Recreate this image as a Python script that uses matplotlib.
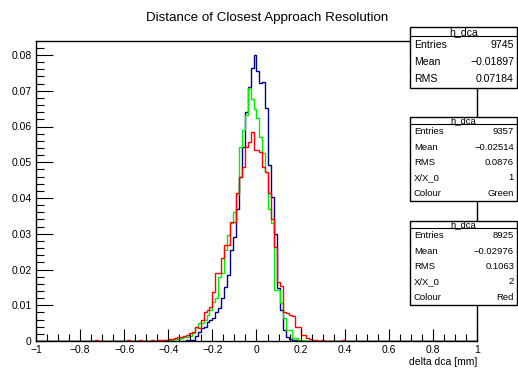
import numpy as np
import matplotlib
matplotlib.use("Agg")
import matplotlib.pyplot as plt
from matplotlib.patches import Rectangle
from matplotlib.lines import Line2D

plt.rcParams['font.family'] = ['Liberation Sans', 'DejaVu Sans']

# ---------------- data ----------------
x_min, x_max, n_bins = -1.0, 1.0, 150
first_bin = 44  # listed values start at bin 44 (x = -0.4133) and run to bin 95

blue_vals = [
    0, 0, 0, 0, 0, 0, 0, 0.0002, 0.0002, 0.0003,           # bins 44-53
    0.0014, 0.0026, 0.0035, 0.004, 0.0054, 0.006, 0.0063, 0.0082, 0.0091, 0.0119,   # 54-63
    0.015, 0.0185, 0.0255, 0.029, 0.037, 0.046, 0.0544, 0.0641, 0.0711, 0.0763,     # 64-73
    0.0799, 0.0756, 0.0721, 0.0724, 0.0651, 0.0492, 0.0404, 0.030, 0.0147, 0.0087,  # 74-83
    0.0031, 0.0012, 0.0006, 0.0003, 0.0002, 0, 0, 0, 0, 0,                          # 84-93
    0, 0,
]
green_vals = [
    0.0003, 0.0003, 0.0004, 0.0005, 0.0006, 0.0008, 0.001, 0.0012, 0.0015, 0.0021,
    0.004, 0.0049, 0.0049, 0.0059, 0.0073, 0.0087, 0.011, 0.0119, 0.018, 0.0189,
    0.0255, 0.0296, 0.033, 0.036, 0.041, 0.0544, 0.059, 0.0632, 0.0707, 0.0676,
    0.0648, 0.0623, 0.0572, 0.0525, 0.0474, 0.037, 0.033, 0.0143, 0.0143, 0.0105,
    0.0063, 0.0031, 0.0031, 0.0008, 0.0008, 0.0003, 0.0003, 0.0002, 0.0001, 0.0001,
    0, 0,
]
red_vals = [
    0.0003, 0.0005, 0.0005, 0.0008, 0.001, 0.0012, 0.0015, 0.0018, 0.0021, 0.0026,
    0.004, 0.0035, 0.0059, 0.0082, 0.0087, 0.0096, 0.0138, 0.0189, 0.0189, 0.0232,
    0.0268, 0.0268, 0.0334, 0.0334, 0.0413, 0.046, 0.0488, 0.0544, 0.0558, 0.0585,
    0.0534, 0.0534, 0.053, 0.0488, 0.0474, 0.0413, 0.034, 0.0264, 0.0164, 0.0155,
    0.008, 0.0077, 0.0073, 0.007, 0.004, 0.004, 0.0017, 0.0017, 0.0008, 0.0005,
    0.0003, 0.0002,
]
red_tail_bins = [3, 12, 20, 25, 31, 35, 39, 41, 42, 43, 97, 99, 104, 112, 121, 133]
red_tail_vals = [0.0001, 0.0001, 0.0002, 0.0001, 0.0002, 0.0002, 0.0003, 0.0003, 0.0002,
                 0.0004, 0.0002, 0.0001, 0.0002, 0.0001, 0.0001, 0.0001]

x_ticks = [-1, -0.8, -0.6, -0.4, -0.2, 0, 0.2, 0.4, 0.6, 0.8, 1]
x_tick_labels = ["\u22121", "\u22120.8", "\u22120.6", "\u22120.4", "\u22120.2", "0",
                 "0.2", "0.4", "0.6", "0.8", "1"]
y_ticks = [0, 0.01, 0.02, 0.03, 0.04, 0.05, 0.06, 0.07, 0.08]
y_tick_labels = ["0", "0.01", "0.02", "0.03", "0.04", "0.05", "0.06", "0.07", "0.08"]

title = "Distance of Closest Approach Resolution"
x_label = "delta dca [mm]"

stats = [
    {"name": "h_dca", "rows": [("Entries", "9745"), ("Mean", "\u22120.01897"), ("RMS", "0.07184")]},
    {"name": "h_dca", "rows": [("Entries", "9357"), ("Mean", "\u22120.02514"), ("RMS", "0.0876"),
                               ("X/X_0", "1"), ("Colour", "Green")]},
    {"name": "h_dca", "rows": [("Entries", "8925"), ("Mean", "\u22120.02976"), ("RMS", "0.1063"),
                               ("X/X_0", "2"), ("Colour", "Red")]},
]

# ---------------- helpers ----------------
W, H = 518, 371
edges = np.linspace(x_min, x_max, n_bins + 1)


def full(vals):
    arr = np.zeros(n_bins)
    arr[first_bin:first_bin + len(vals)] = vals
    return arr


blue = full(blue_vals)
green = full(green_vals)
red = full(red_vals)
red[red_tail_bins] = red_tail_vals

fig = plt.figure(figsize=(W / 100, H / 100), dpi=100)
fig.patch.set_facecolor("white")

ax_l, ax_r, ax_b, ax_t = 36, 477, 341, 41
ax = fig.add_axes([ax_l / W, 1 - ax_b / H, (ax_r - ax_l) / W, (ax_b - ax_t) / H])

ax.stairs(blue, edges, color="#00008b", lw=1.0, baseline=0)
ax.stairs(green, edges, color="#00ee00", lw=1.0, baseline=0)
ax.stairs(red, edges, color="#ff0000", lw=1.0, baseline=0)

ax.set_xlim(x_min, x_max)
ax.set_ylim(0, (ax_b - ax_t) / 3575.0)

ax.set_xticks(x_ticks)
ax.set_xticklabels(x_tick_labels, fontsize=7.5)
ax.set_xticks(np.arange(-1, 1.0001, 0.05), minor=True)
ax.set_yticks(y_ticks)
ax.set_yticklabels(y_tick_labels, fontsize=7.5)
ax.set_yticks(np.arange(0, 0.0831, 0.002), minor=True)

ax.tick_params(axis="x", which="major", direction="in", length=9, width=0.8, pad=3,
               top=False)
ax.tick_params(axis="x", which="minor", direction="in", length=5, width=0.8, top=False)
ax.tick_params(axis="y", which="major", direction="in", length=12, width=0.8, pad=3,
               right=False)
ax.tick_params(axis="y", which="minor", direction="in", length=6, width=0.8, right=False)
for s in ax.spines.values():
    s.set_linewidth(1.0)

fig.text(267 / W, 1 - 18 / H, title, ha="center", va="center", fontsize=9.6)
fig.text(ax_r / W, 1 - 362 / H, x_label, ha="right", va="center", fontsize=7.5)


def stat_box(top, bottom, title_h, info, fs):
    left, right = 410, 517
    rect = Rectangle((left / W, 1 - bottom / H), (right - left) / W, (bottom - top) / H,
                     transform=fig.transFigure, facecolor="white", edgecolor="black",
                     lw=1.0, zorder=5)
    fig.add_artist(rect)
    div = top + title_h
    fig.add_artist(Line2D([left / W, right / W], [1 - div / H, 1 - div / H],
                          transform=fig.transFigure, color="black", lw=0.8, zorder=6))
    fig.text((left + right) / 2 / W, 1 - (top + title_h / 2 + 0.5) / H, info["name"],
             ha="center", va="center", fontsize=fs, zorder=7)
    n = len(info["rows"])
    rh = (bottom - div) / n
    for i, (k, v) in enumerate(info["rows"]):
        yc = div + rh * (i + 0.5)
        fig.text((left + 4) / W, 1 - yc / H, k, ha="left", va="center", fontsize=fs, zorder=7)
        fig.text((right - 3) / W, 1 - yc / H, v, ha="right", va="center", fontsize=fs, zorder=7)


stat_box(27, 88, 9, stats[0], 7.6)
stat_box(117, 201, 7, stats[1], 6.8)
stat_box(221, 305, 7, stats[2], 6.8)

fig.savefig("out.png", dpi=100)
